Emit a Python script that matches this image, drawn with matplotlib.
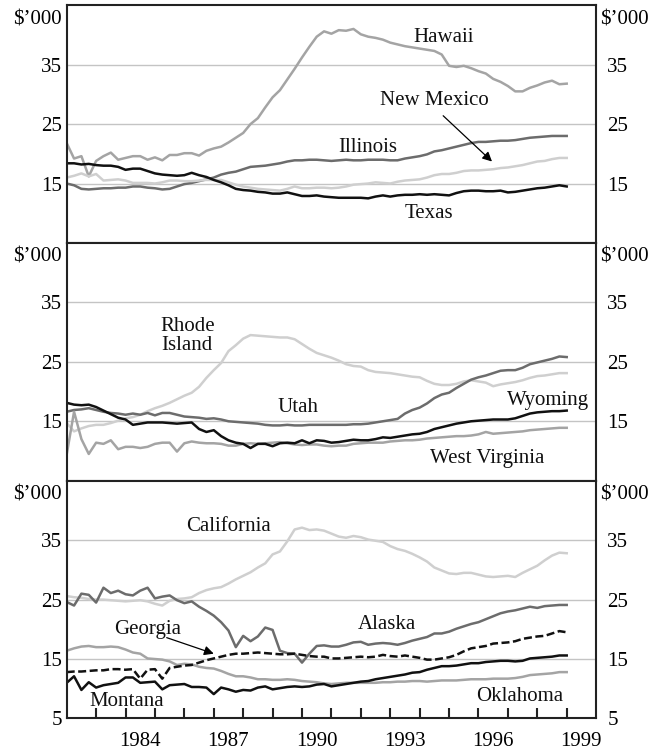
import numpy as np
import matplotlib
matplotlib.use('Agg')
import matplotlib.pyplot as plt

plt.rcParams['font.family'] = ['Liberation Serif', 'DejaVu Serif']
plt.rcParams['font.size'] = 15

# quarterly observations, 1982 Q1 .. 1999 Q1  ($'000)
quarters = 1982 + 0.25 * np.arange(69)

hawaii = [21.8, 19.2, 19.6, 16.2,  18.8, 19.6, 20.2, 19.0,  19.3, 19.6, 19.6, 19.0,
          19.4, 18.9, 19.8, 19.8,  20.1, 20.1, 19.7, 20.5,  20.9, 21.2, 21.9, 22.7,
          23.5, 25.0, 26.0, 27.8,  29.5, 30.7, 32.5, 34.3,  36.2, 38.0, 39.7, 40.6,
          40.2, 40.8, 40.7, 41.0,  40.1, 39.7, 39.5, 39.2,  38.7, 38.4, 38.1, 37.9,
          37.7, 37.5, 37.3, 36.7,  34.8, 34.6, 34.8, 34.4,  33.9, 33.5, 32.6, 32.1,
          31.4, 30.5, 30.5, 31.1,  31.5, 32.0, 32.3, 31.7,  31.8]
illinois = [15.0, 14.7, 14.1, 14.0,  14.1, 14.2, 14.2, 14.3,  14.3, 14.5, 14.5, 14.3,
            14.2, 14.0, 14.1, 14.5,  14.9, 15.1, 15.4, 15.7,  16.0, 16.5, 16.8, 17.0,
            17.4, 17.8, 17.9, 18.0,  18.2, 18.4, 18.7, 18.9,  18.9, 19.0, 19.0, 18.9,
            18.8, 18.9, 19.0, 18.9,  18.9, 19.0, 19.0, 19.0,  18.9, 18.9, 19.2, 19.4,
            19.6, 19.9, 20.4, 20.6,  20.9, 21.2, 21.5, 21.8,  22.0, 22.0, 22.1, 22.2,
            22.2, 22.3, 22.5, 22.7,  22.8, 22.9, 23.0, 23.0,  23.0]
new_mexico = [16.0, 16.3, 16.7, 16.2,  16.6, 15.5, 15.6, 15.7,  15.5, 15.1, 15.1, 15.1,
              15.0, 15.2, 15.5, 15.5,  15.4, 15.4, 15.5, 15.6,  15.6, 15.6, 15.2, 14.8,
              14.5, 14.3, 14.1, 14.0,  13.9, 13.8, 14.1, 14.5,  14.2, 14.2, 14.3, 14.3,
              14.2, 14.3, 14.5, 14.8,  14.9, 15.0, 15.2, 15.1,  15.0, 15.3, 15.5, 15.6,
              15.7, 16.0, 16.4, 16.6,  16.6, 16.8, 17.1, 17.2,  17.2, 17.3, 17.4, 17.6,
              17.7, 17.9, 18.1, 18.4,  18.7, 18.8, 19.1, 19.3,  19.3]
texas = [18.4, 18.4, 18.2, 18.3,  18.1, 18.0, 18.0, 17.8,  17.3, 17.5, 17.5, 17.1,
         16.7, 16.5, 16.4, 16.3,  16.4, 16.8, 16.4, 16.1,  15.6, 15.2, 14.7, 14.1,
         13.9, 13.8, 13.6, 13.5,  13.3, 13.3, 13.5, 13.2,  12.9, 12.9, 13.0, 12.8,
         12.7, 12.6, 12.6, 12.6,  12.6, 12.5, 12.8, 13.0,  12.8, 13.0, 13.1, 13.1,
         13.2, 13.1, 13.2, 13.1,  13.0, 13.4, 13.7, 13.8,  13.8, 13.7, 13.7, 13.8,
         13.5, 13.6, 13.8, 14.0,  14.2, 14.3, 14.5, 14.7,  14.5]

rhode_island = [14.7, 13.3, 13.8, 14.2,  14.4, 14.4, 14.7, 15.1,  15.5, 15.7, 16.1, 16.7,
                17.2, 17.6, 18.1, 18.7,  19.3, 19.8, 20.8, 22.3,  23.6, 24.8, 26.8, 27.8,
                28.9, 29.5, 29.4, 29.3,  29.2, 29.1, 29.1, 28.8,  28.0, 27.2, 26.5, 26.1,
                25.7, 25.2, 24.6, 24.3,  24.2, 23.6, 23.3, 23.2,  23.1, 22.9, 22.7, 22.5,
                22.4, 21.8, 21.3, 21.1,  21.1, 21.3, 21.7, 21.9,  21.7, 21.5, 20.9, 21.2,
                21.4, 21.6, 21.9, 22.3,  22.6, 22.7, 22.9, 23.1,  23.1]
utah = [16.6, 16.9, 17.0, 17.2,  16.9, 16.6, 16.4, 16.3,  16.1, 16.3, 16.1, 16.4,
        16.0, 16.4, 16.4, 16.1,  15.8, 15.7, 15.6, 15.4,  15.5, 15.3, 15.0, 14.9,
        14.8, 14.7, 14.6, 14.4,  14.3, 14.3, 14.4, 14.3,  14.3, 14.4, 14.4, 14.4,
        14.4, 14.4, 14.4, 14.5,  14.5, 14.6, 14.8, 15.0,  15.2, 15.4, 16.3, 16.9,
        17.3, 18.0, 18.9, 19.5,  19.8, 20.6, 21.3, 22.0,  22.4, 22.7, 23.1, 23.5,
        23.6, 23.6, 24.0, 24.6,  24.9, 25.2, 25.5, 25.9,  25.8]
wyoming = [18.1, 17.8, 17.7, 17.8,  17.4, 16.8, 16.2, 15.6,  15.3, 14.4, 14.6, 14.8,
           14.8, 14.8, 14.7, 14.6,  14.7, 14.8, 13.7, 13.2,  13.5, 12.5, 11.8, 11.4,
           11.2, 10.5, 11.2, 11.2,  10.8, 11.3, 11.4, 11.3,  11.8, 11.3, 11.8, 11.7,
           11.4, 11.5, 11.7, 11.9,  11.8, 11.8, 12.0, 12.3,  12.2, 12.4, 12.6, 12.8,
           12.9, 13.2, 13.7, 14.0,  14.3, 14.6, 14.8, 15.0,  15.1, 15.2, 15.3, 15.3,
           15.3, 15.5, 15.9, 16.3,  16.5, 16.6, 16.7, 16.7,  16.8]
west_virginia = [9.4, 16.6, 12.0, 9.5,  11.4, 11.2, 11.8, 10.3,  10.7, 10.7, 10.5, 10.7,
                 11.2, 11.4, 11.4, 9.9,  11.3, 11.6, 11.4, 11.3,  11.3, 11.2, 10.9, 10.9,
                 11.2, 11.3, 11.2, 11.3,  11.4, 11.5, 11.3, 11.1,  11.0, 11.1, 11.1, 10.9,
                 10.8, 10.9, 10.9, 11.2,  11.3, 11.4, 11.4, 11.4,  11.6, 11.7, 11.8, 11.8,
                 11.9, 12.1, 12.2, 12.3,  12.4, 12.5, 12.5, 12.6,  12.8, 13.2, 12.9, 13.0,
                 13.1, 13.2, 13.3, 13.5,  13.6, 13.7, 13.8, 13.9,  13.9]

california = [25.6, 25.4, 25.3, 25.1,  25.0, 25.0, 24.9, 24.8,  24.7, 24.8, 24.9, 24.7,
              24.3, 24.0, 24.8, 25.1,  25.2, 25.4, 26.1, 26.6,  26.9, 27.1, 27.7, 28.4,
              29.0, 29.6, 30.4, 31.1,  32.6, 33.1, 34.8, 36.8,  37.1, 36.7, 36.8, 36.6,
              36.1, 35.6, 35.4, 35.7,  35.5, 35.1, 34.9, 34.7,  34.0, 33.5, 33.2, 32.7,
              32.1, 31.4, 30.4, 29.9,  29.4, 29.3, 29.5, 29.5,  29.2, 28.9, 28.8, 28.9,
              29.0, 28.8, 29.5, 30.1,  30.7, 31.6, 32.4, 32.9,  32.8]
alaska = [24.6, 24.0, 26.0, 25.8,  24.5, 27.0, 26.1, 26.5,  25.9, 25.7, 26.5, 27.0,
          25.2, 25.5, 25.7, 24.9,  24.4, 24.7, 23.8, 23.1,  22.3, 21.2, 19.8, 17.0,
          18.9, 18.0, 18.8, 20.3,  19.9, 16.4, 16.0, 15.9,  14.4, 15.9, 17.2, 17.3,
          17.1, 17.1, 17.4, 17.8,  17.9, 17.4, 17.6, 17.7,  17.6, 17.4, 17.7, 18.1,
          18.4, 18.7, 19.3, 19.3,  19.6, 20.1, 20.5, 20.9,  21.2, 21.7, 22.2, 22.7,
          23.0, 23.2, 23.5, 23.8,  23.6, 23.9, 24.0, 24.1,  24.1]
georgia = [12.8, 12.9, 12.9, 13.0,  13.1, 13.1, 13.3, 13.3,  13.2, 13.3, 11.7, 13.2,
           13.3, 11.7, 13.5, 13.7,  13.9, 14.0, 14.4, 14.8,  15.1, 15.4, 15.7, 15.9,
           15.9, 16.0, 16.1, 16.0,  15.9, 15.8, 15.8, 15.9,  15.7, 15.5, 15.4, 15.4,
           15.1, 15.1, 15.2, 15.3,  15.4, 15.3, 15.4, 15.7,  15.5, 15.4, 15.6, 15.4,
           15.2, 14.9, 14.9, 15.1,  15.3, 15.7, 16.3, 16.8,  17.0, 17.2, 17.6, 17.7,
           17.8, 18.0, 18.4, 18.6,  18.8, 18.9, 19.3, 19.7,  19.5]
montana = [11.0, 12.1, 9.8, 11.1,  10.2, 10.6, 10.8, 11.0,  11.9, 11.9, 11.0, 11.1,
           11.2, 9.9, 10.6, 10.7,  10.8, 10.3, 10.3, 10.2,  9.1, 10.2, 9.9, 9.5,
           9.8, 9.7, 10.2, 10.4,  9.9, 10.1, 10.3, 10.4,  10.3, 10.4, 10.7, 10.8,
           10.4, 10.6, 10.8, 11.0,  11.2, 11.3, 11.6, 11.8,  12.0, 12.2, 12.4, 12.7,
           12.8, 13.2, 13.5, 13.8,  13.8, 13.9, 14.1, 14.3,  14.3, 14.5, 14.6, 14.7,
           14.7, 14.6, 14.7, 15.1,  15.2, 15.3, 15.4, 15.6,  15.6]
oklahoma = [16.4, 16.8, 17.1, 17.2,  17.0, 17.0, 17.1, 17.0,  16.6, 16.1, 15.9, 15.1,
            15.0, 14.9, 14.6, 14.0,  14.2, 14.1, 13.7, 13.5,  13.4, 13.0, 12.5, 12.1,
            12.1, 11.9, 11.6, 11.6,  11.5, 11.5, 11.6, 11.5,  11.3, 11.2, 11.1, 10.9,
            10.8, 10.9, 11.0, 11.0,  11.0, 11.0, 11.0, 11.1,  11.1, 11.2, 11.2, 11.3,
            11.3, 11.2, 11.3, 11.4,  11.4, 11.4, 11.5, 11.6,  11.6, 11.6, 11.7, 11.7,
            11.7, 11.8, 12.0, 12.3,  12.4, 12.5, 12.6, 12.8,  12.8]

year_labels = ['1984', '1987', '1990', '1993', '1996', '1999']

BLACK = '#111111'
DARK = '#6c6c6c'
MID = '#a4a4a4'
LIGHT = '#cfcfcf'

panels = [
    {'lines': [(hawaii, MID, '-'), (illinois, DARK, '-'),
               (new_mexico, LIGHT, '-'), (texas, BLACK, '-')],
     'labels': [('Hawaii', 1994.8, 39.6), ('New Mexico', 1994.5, 29.0),
                ('Illinois', 1992.25, 21.1), ('Texas', 1994.3, 10.0)],
     'arrow': ((1994.8, 26.4), (1996.46, 18.7))},
    {'lines': [(rhode_island, LIGHT, '-'), (utah, DARK, '-'),
               (west_virginia, MID, '-'), (wyoming, BLACK, '-')],
     'labels': [('Rhode\nIsland', 1986.1, 29.3), ('Utah', 1989.85, 17.3),
                ('Wyoming', 1998.35, 18.5), ('West Virginia', 1996.3, 8.75)],
     'arrow': None},
    {'lines': [(california, LIGHT, '-'), (oklahoma, MID, '-'),
               (alaska, DARK, '-'), (montana, BLACK, '-'), (georgia, BLACK, '--')],
     'labels': [('California', 1987.5, 37.3), ('Georgia', 1984.75, 19.9),
                ('Montana', 1984.05, 7.8), ('Alaska', 1992.9, 20.8),
                ('Oklahoma', 1997.4, 8.7)],
     'arrow': ((1985.4, 18.6), (1987.0, 15.9))},
]

fig = plt.figure(figsize=(6.52, 7.51), dpi=100)
left, width = 0.1023, 0.8120
h = 0.3166
bottoms = [0.0433 + 2 * h, 0.0433 + h, 0.0433]

for i, p in enumerate(panels):
    ax = fig.add_axes([left, bottoms[i], width, h])
    ax.set_xlim(1982, 2000)
    ax.set_ylim(5, 45)
    yt = [15, 25, 35] if i < 2 else [5, 15, 25, 35]
    ax.set_yticks(yt)
    ax.set_axisbelow(True)
    ax.grid(axis='y', color='#c4c4c4', lw=1.0)
    ax.tick_params(axis='y', length=0, pad=3.4)
    for s in ax.spines.values():
        s.set_linewidth(1.5)
        s.set_color('#222222')

    sec = ax.secondary_yaxis('right')
    sec.set_yticks(yt)
    sec.tick_params(length=0, pad=8)
    sec.spines['right'].set_visible(False)

    ax.annotate('$\u2019000', xy=(0, 1), xycoords='axes fraction', xytext=(-3.4, -3.5),
                textcoords='offset points', ha='right', va='top')
    ax.annotate('$\u2019000', xy=(1, 1), xycoords='axes fraction', xytext=(3, -3.5),
                textcoords='offset points', ha='left', va='top')

    for vals, col, ls in p['lines']:
        if ls == '--':
            ax.plot(quarters, vals, color=col, lw=1.8, dashes=(3.2, 1.4))
        else:
            ax.plot(quarters, vals, color=col, lw=1.8)

    for txt, x, y in p['labels']:
        ax.text(x, y, txt, ha='center', va='center', linespacing=1.0, color='#111111')

    if p['arrow'] is not None:
        start, end = p['arrow']
        ax.annotate('', xy=end, xytext=start,
                    arrowprops=dict(arrowstyle='-|>', color='black', lw=0.9,
                                    mutation_scale=14, shrinkA=0, shrinkB=0))

    if i < 2:
        ax.set_xticks([])
    else:
        ax.set_xticks(range(1983, 2000))
        ax.set_xticklabels([])
        ax.tick_params(axis='x', which='major', direction='in', length=7,
                       width=1.5, color='#222222')
        ax.set_xticks([int(y) + 0.5 for y in year_labels], minor=True)
        ax.set_xticklabels(year_labels, minor=True)
        ax.tick_params(axis='x', which='minor', length=0, pad=10)

fig.savefig('out.png', dpi=100)
